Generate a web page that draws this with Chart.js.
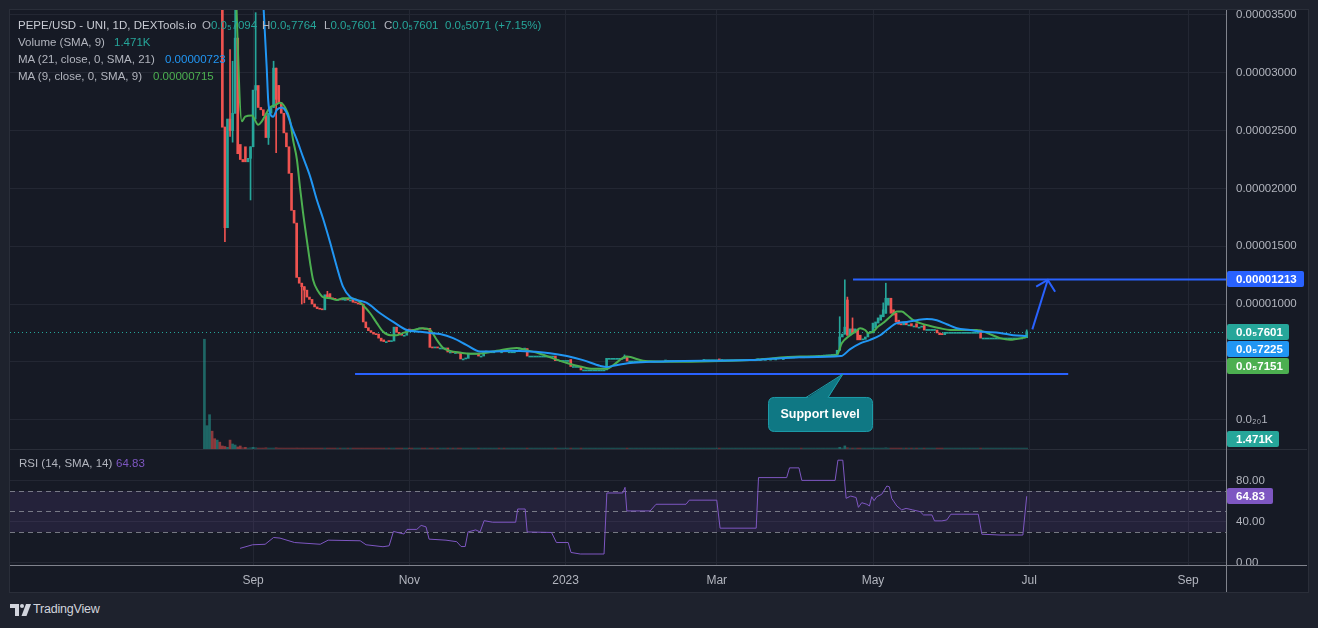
<!DOCTYPE html>
<html><head><meta charset="utf-8">
<script src="https://cdn.jsdelivr.net/npm/chart.js@4.4.1/dist/chart.umd.min.js"></script>
<style>
html,body{margin:0;padding:0;width:1318px;height:628px;overflow:hidden;background:#1e222d;font-family:"Liberation Sans",Arial,sans-serif;}
#frame{position:absolute;left:9px;top:9px;width:1298px;height:582px;background:#161a25;border:1px solid #2a2e39;}
canvas{position:absolute;}
#cA{left:10px;top:0px;}
#cB{left:10px;top:449px;}
.ln{position:absolute;background:#80838d;}
.lg{position:absolute;font-size:11.5px;line-height:14px;white-space:nowrap;color:#b2b5be;z-index:5;}
.t{color:#26a69a;}
</style></head>
<body>
<div id="frame"></div>
<div style="position:absolute;left:10px;top:449px;width:1297px;height:1px;background:#2a2e39"></div>
<canvas id="cA" width="1298" height="449" style="width:1298px;height:449px"></canvas>
<canvas id="cB" width="1298" height="143" style="width:1298px;height:143px"></canvas>
<div class="ln" style="left:1226px;top:10px;width:1px;height:582px"></div>
<div class="ln" style="left:10px;top:565px;width:1297px;height:1px"></div>

<div class="lg" style="left:18px;top:18px;color:#c8cbd3">PEPE/USD - UNI, 1D, DEXTools.io</div>
<div class="lg" style="left:202px;top:18px">O<span class="t">0.0₅7094</span></div>
<div class="lg" style="left:262px;top:18px">H<span class="t">0.0₅7764</span></div>
<div class="lg" style="left:324px;top:18px">L<span class="t">0.0₅7601</span></div>
<div class="lg" style="left:384px;top:18px">C<span class="t">0.0₅7601</span></div>
<div class="lg t" style="left:445px;top:18px">0.0₆5071 (+7.15%)</div>
<div class="lg" style="left:18px;top:35px">Volume (SMA, 9)</div>
<div class="lg t" style="left:114px;top:35px">1.471K</div>
<div class="lg" style="left:18px;top:52px">MA (21, close, 0, SMA, 21)</div>
<div class="lg" style="left:165px;top:52px;color:#2196f3">0.00000723</div>
<div class="lg" style="left:18px;top:69px">MA (9, close, 0, SMA, 9)</div>
<div class="lg" style="left:153px;top:69px;color:#4caf50">0.00000715</div>
<div class="lg" style="left:19px;top:456px">RSI (14, SMA, 14)</div>
<div class="lg" style="left:116px;top:456px;color:#7e57c2">64.83</div>

<svg style="position:absolute;left:10px;top:604px" width="22" height="12" viewBox="0 0 22 12">
<path d="M0 0H9V12H5V4H0Z" fill="#d1d4dc"/><circle cx="12" cy="2" r="2" fill="#d1d4dc"/><path d="M16 0H21L16.5 12H11.5Z" fill="#d1d4dc"/>
</svg>
<div style="position:absolute;left:33px;top:602px;font-size:12.5px;color:#d1d4dc;font-weight:500;letter-spacing:-0.2px">TradingView</div>

<script>
// ================= DATA =================
// daily candles starting at this date (prices in millionths of USD, i.e. value × 1e-6)
const firstDate = '2022-08-13';
const opens = [
  38, 46, 52, 60, 55, 49, 53, 48, 25.3, 16.6,            // d -19..-10
  26.0, 25.0, 26.5, 33.0, 23.8, 22.5, 23.6, 22.3, 22.6, 23.6, // d -9..0
  28.5, 28.9, 27.0, 26.8, 26.3, 24.4, 26.5, 27.0, 30.4, 28.9, // 1..10
  27.4, 26.5, 24.8, 23.6, 21.3, 18.1, 17.0, 12.3, 11.8, 11.5, // 11..20
  11.2, 10.6, 10.4, 10.0, 9.75, 9.6, 9.55, 9.5, 10.8, 10.9,   // 21..30
  10.5, 10.45, 10.4, 10.4, 10.35, 10.4, 10.4, 10.35, 10.4, 10.15, // 31..40
  10.1, 10.0, 10.0, 8.45, 7.95, 7.7, 7.55, 7.4, 7.4, 7.05,    // 41..50
  6.9, 6.75, 6.8, 6.75, 6.8, 8.0, 7.55, 7.35, 7.3, 7.3,       // 51..60
  7.8, 7.75, 7.7, 7.75, 7.85, 7.9, 7.85, 7.8, 7.9, 6.25,      // 61..70
  6.2, 6.25, 6.2, 6.2, 6.2, 6.2, 5.85, 5.85, 5.8, 5.8,        // 71..80
  5.75, 5.25, 5.25, 5.3, 5.75, 5.75, 5.75, 5.75, 5.5, 5.5,    // 81..90
  5.85, 5.87, 5.87, 5.87, 5.87, 5.88, 5.87, 5.87, 5.86, 5.87, // 91..100
  5.87, 5.87, 5.87, 5.95, 6.05, 6.1, 6.15, 5.5, 5.5, 5.5,     // 101..110
  5.5, 5.5, 5.5, 5.5, 5.5, 5.5, 5.5, 5.5, 5.1, 5.12,          // 111..120
  5.12, 5.12, 5.12, 5.2, 4.6, 4.6, 4.6, 4.6, 4.3, 4.3,        // 121..130
  4.3, 4.3, 4.3, 4.3, 4.3, 4.3, 4.3, 4.3, 5.3, 5.3,           // 131..140
  5.3, 5.3, 5.3, 5.3, 5.3, 5.45, 5.07, 5.07, 5.07, 5.07,      // 141..150
  5.07, 5.07, 5.07, 5.07, 5.07, 5.07, 5.07, 5.07, 5.07, 5.07, // 151..160
  5.07, 5.12, 5.12, 5.12, 5.12, 5.12, 5.12, 5.12, 5.12, 5.12, // 161..170
  5.12, 5.12, 5.12, 5.12, 5.12, 5.12, 5.18, 5.18, 5.18, 5.18, // 171..180
  5.18, 5.25, 5.12, 5.18, 5.18, 5.18, 5.18, 5.18, 5.18, 5.18, // 181..190
  5.18, 5.18, 5.18, 5.18, 5.18, 5.18, 5.18, 5.2, 5.2, 5.22,   // 191..200
  5.22, 5.23, 5.23, 5.25, 5.25, 5.27, 5.28, 5.28, 5.3, 5.32,  // 201..210
  5.33, 5.35, 5.37, 5.45, 5.35, 5.38, 5.4, 5.42, 5.43, 5.45,  // 211..220
  5.47, 5.48, 5.5, 5.52, 5.53, 5.55, 5.57, 5.6, 6.0, 7.15,    // 221..230
  7.4, 10.35, 7.3, 7.85, 7.5, 7.75, 7.3, 6.9, 6.95, 7.15,     // 231..240
  7.55, 7.5, 7.95, 8.35, 8.6, 8.9, 9.2, 9.9, 10.5, 9.5,       // 241..250
  9.2, 8.6, 8.3, 8.2, 8.45, 8.2, 8.3, 8.1, 8.3, 8.0,          // 251..260
  8.0, 8.15, 7.8, 7.8, 7.8, 7.8, 7.75, 7.5, 7.45, 7.35,       // 261..270
  7.55, 7.55, 7.55, 7.55, 7.55, 7.55, 7.55, 7.55, 7.55, 7.55, // 271..280
  7.55, 7.55, 7.55, 7.75, 7.06, 7.06, 7.06, 7.06, 7.06, 7.06, // 281..290
  7.06, 7.06, 7.06, 7.06, 7.06, 7.06, 7.06, 7.06, 7.06, 7.06, // 291..300
  7.06, 7.094                                                  // 301..302
];
const closes = [
  46, 52, 60, 55, 49, 53, 48, 25.3, 16.6, 26.0,
  25.0, 26.5, 33.0, 23.0, 22.5, 22.3, 22.3, 22.6, 23.6, 28.5,
  28.9, 27.0, 26.8, 26.3, 24.4, 26.5, 27.0, 30.4, 27.7, 27.4,
  26.5, 24.8, 23.6, 21.3, 18.1, 17.0, 12.3, 11.8, 11.5, 11.2,
  10.6, 10.4, 10.0, 9.75, 9.6, 9.55, 9.5, 10.8, 10.6, 10.5,
  10.45, 10.4, 10.4, 10.35, 10.4, 10.4, 10.35, 10.35, 10.15, 10.1,
  10.0, 9.95, 8.45, 7.95, 7.7, 7.55, 7.4, 7.35, 7.05, 6.8,
  6.75, 6.75, 6.75, 6.8, 8.0, 7.55, 7.35, 7.3, 7.3, 7.8,
  7.75, 7.7, 7.75, 7.85, 7.9, 7.85, 7.8, 7.9, 6.25, 6.2,
  6.25, 6.2, 6.2, 6.2, 6.2, 5.85, 5.85, 5.8, 5.8, 5.75,
  5.25, 5.25, 5.3, 5.75, 5.75, 5.75, 5.75, 5.5, 5.5, 5.85,
  5.87, 5.87, 5.87, 5.87, 5.88, 5.87, 5.87, 5.86, 5.87, 5.87,
  5.87, 5.87, 5.95, 6.05, 6.1, 6.15, 5.5, 5.5, 5.5, 5.5,
  5.5, 5.5, 5.5, 5.5, 5.5, 5.5, 5.5, 5.1, 5.12, 5.12,
  5.12, 5.12, 5.12, 4.6, 4.6, 4.6, 4.6, 4.3, 4.3, 4.3,
  4.3, 4.3, 4.3, 4.3, 4.3, 4.3, 4.3, 5.3, 5.3, 5.3,
  5.3, 5.3, 5.3, 5.3, 5.45, 5.07, 5.07, 5.07, 5.07, 5.07,
  5.07, 5.07, 5.07, 5.07, 5.07, 5.07, 5.07, 5.07, 5.07, 5.07,
  5.12, 5.12, 5.12, 5.12, 5.12, 5.12, 5.12, 5.12, 5.12, 5.12,
  5.12, 5.12, 5.12, 5.12, 5.12, 5.18, 5.18, 5.18, 5.18, 5.18,
  5.18, 5.12, 5.18, 5.18, 5.18, 5.18, 5.18, 5.18, 5.18, 5.18,
  5.18, 5.18, 5.18, 5.18, 5.18, 5.18, 5.2, 5.2, 5.22, 5.22,
  5.23, 5.23, 5.25, 5.25, 5.27, 5.28, 5.28, 5.3, 5.32, 5.33,
  5.35, 5.37, 5.38, 5.35, 5.38, 5.4, 5.42, 5.43, 5.45, 5.47,
  5.48, 5.5, 5.52, 5.53, 5.55, 5.57, 5.6, 6.0, 7.15, 7.4,
  8.0, 7.3, 7.85, 7.5, 7.85, 6.9, 6.9, 6.95, 7.15, 7.55,
  7.6, 8.35, 8.45, 8.8, 9.05, 9.5, 10.5, 10.5, 9.2, 9.05,
  8.45, 8.25, 8.2, 8.45, 8.2, 8.2, 8.1, 8.1, 8.0, 8.0,
  8.05, 7.75, 7.8, 7.8, 7.8, 7.8, 7.5, 7.35, 7.35, 7.55,
  7.55, 7.55, 7.55, 7.55, 7.55, 7.55, 7.55, 7.55, 7.55, 7.55,
  7.55, 7.55, 7.55, 7.05, 7.06, 7.06, 7.06, 7.06, 7.06, 7.06,
  7.06, 7.06, 7.06, 7.06, 7.06, 7.06, 7.06, 7.06, 7.06, 7.06,
  7.094, 7.601
];
// wick extremes beyond the body: [day offset from 2022-09-01, value]
const wickHighs = [[-9,32],[-8,31],[-7,40],[1,35.2],[8,31],[10,28.9],[29,11.1],[145,5.6],[229,8.9],[231,12.1],[232,10.6],[234,8.8],[246,10.1],[247,11.8],[302,7.764]];
const wickLows = [[-11,15.4],[-9,24.5],[-8,24.0],[-1,19.0],[1,26.0],[6,23.8],[9,23.1],[19,10.0],[20,10.1]];
// daily volume, thousands
const volumes = [
  160, 34, 50, 26, 15, 13, 10, 4.4, 3.6, 2.5,
  13, 7.3, 5.8, 3, 4.4, 2, 2.5, 1.5, 2, 2.5,
  2, 1.5, 1.2, 1.5, 2, 1.5, 1.2, 1.5, 2, 1.5,
  1.5, 1.2, 1.4, 1.2, 1.5, 1.3, 1.6, 1.4, 1.2, 1.3, 1.1, 1.2, 1, 1.1, 1.2, 1, 1.3, 1.1, 1, 1,
  1, 1, 1, 1, 1, 1, 1, 1, 1, 1.2, 1, 1, 1.3, 1.2, 1, 1, 1, 1, 1.1, 1,
  1, 1, 1, 1, 1.2, 1, 1, 1, 1, 1.1, 1, 1, 1, 1, 1, 1, 1, 1, 1.2, 1,
  1, 1, 1, 1, 1, 1, 1, 1, 1, 1, 1, 1, 1, 1, 1, 1, 1, 1, 1, 1,
  1, 1, 1, 1, 1, 1, 1, 1, 1, 1, 1, 1, 1, 1, 1, 1, 1, 1, 1, 1,
  1, 1, 1, 1, 1, 1, 1, 1, 1, 1, 1, 1, 1, 1, 1, 1, 1, 1, 1, 1,
  1, 1, 1, 1, 1, 1, 1, 1.2, 1, 1, 1, 1, 1, 1, 1, 1, 1, 1, 1, 1,
  1, 1, 1, 1, 1, 1, 1, 1, 1, 1, 1, 1, 1, 1, 1, 1, 1, 1, 1, 1,
  1, 1, 1, 1, 1, 1, 1, 1, 1, 1, 1, 1, 1, 1, 1, 1, 1, 1, 1, 1,
  1, 1, 1, 1, 1, 1, 1, 1, 1, 1, 1, 1, 1, 1, 1, 1, 1, 1, 1, 1,
  1, 1, 1, 1, 1, 1, 1, 1, 1, 1, 1, 1, 1, 1, 1, 1, 1, 1.5, 2.5, 1.5,
  4.5, 2, 1, 1, 1, 1, 1, 1, 1, 1, 1, 1, 1, 1, 1, 1.5, 2, 1, 1, 1,
  1, 1, 1, 1, 1, 1, 1, 1, 1, 1, 1, 1, 1, 1, 1, 1, 1, 1, 1, 1,
  1, 1, 1, 1, 1, 1, 1, 1, 1, 1, 1, 1, 1, 1, 1, 1, 1, 1, 1, 1,
  1, 1, 1, 1, 1, 1, 1, 1, 1, 1, 1, 1.471
];
// moving averages: [day offset, value]
const ma21 = [[3.5,38],[5.3,30.5],[5.9,27.6],[6.6,26.5],[7.8,26.2],[9.3,26.8],[11.2,27.0],[13.2,26.5],[15.1,25.3],[17.1,24.2],[19.5,22.7],[22.3,21.0],[24.9,19.0],[27.3,17.4],[30.1,15.3],[32.7,13.2],[35.1,11.5],[37.9,10.6],[40.5,10.35],[44.4,10.1],[49.6,9.2],[54.7,8.45],[60.0,7.75],[65.2,7.6],[69.1,7.5],[73.0,7.4],[78.1,7.05],[83.4,6.45],[88.6,5.9],[92.5,5.9],[100.3,5.95],[108.1,5.9],[115.9,5.75],[122.5,5.5],[128.8,5.15],[135.5,4.65],[138.1,4.55],[140.5,4.65],[147.2,4.9],[155.0,5.0],[162.8,5.05],[194.0,5.15],[213.5,5.4],[229.5,5.5],[233.1,6.1],[237.0,6.6],[240.9,6.9],[244.8,7.3],[247.4,7.75],[251.3,8.35],[255.2,8.45],[259.1,8.6],[263.0,8.7],[266.9,8.6],[270.8,8.25],[274.7,7.9],[279.9,7.75],[285.0,7.6],[291.6,7.5],[296.7,7.3],[302,7.225]];
const ma9 = [[-7.2,40],[-4.4,25.8],[-3.1,26.2],[-0.5,26.3],[2.0,25.5],[3.4,25.8],[4.7,26.3],[6.6,27.0],[8.6,27.2],[10.5,27.4],[12.5,27.0],[14.4,25.9],[15.6,24.2],[17.1,22.5],[18.3,20.1],[19.5,17.9],[21.0,15.5],[22.3,13.5],[23.4,12.1],[25.4,11.1],[27.3,10.6],[30.1,10.5],[32.7,10.35],[35.1,10.5],[37.9,10.5],[40.5,10.35],[42.9,9.9],[45.7,9.2],[48.3,8.35],[50.8,7.6],[53.5,7.3],[56.1,7.3],[58.6,7.5],[62.5,7.75],[66.4,7.9],[69.1,7.75],[71.7,6.9],[74.2,6.2],[76.9,5.95],[80.8,5.8],[84.7,5.7],[89.8,5.75],[95.1,5.95],[102.9,6.2],[106.8,6.0],[112.0,5.7],[117.1,5.3],[122.5,4.9],[127.7,4.6],[132.7,4.4],[138.1,4.4],[140.5,4.7],[145.9,5.45],[152.2,5.1],[162.8,5.0],[194.0,5.15],[213.5,5.45],[227.9,5.6],[229.8,6.6],[233.1,7.3],[235.0,7.6],[237.0,7.9],[238.9,7.75],[240.1,7.5],[242.0,7.6],[244.0,8.05],[245.9,8.35],[248.7,8.9],[251.3,9.35],[253.2,9.35],[255.2,9.05],[257.7,8.6],[260.4,8.35],[264.3,8.1],[268.2,7.9],[272.1,7.75],[277.2,7.75],[282.5,7.75],[286.4,7.5],[291.6,7.05],[295.5,6.9],[302,7.151]];
// RSI(14): [day offset, value]
const rsi = [[-5.1,14],[-0.2,17.5],[4.7,18],[8.0,24.6],[10.5,24],[16.2,19.7],[26.2,18],[29.3,22],[41.8,21.4],[44.1,17.5],[50.7,15.6],[53.1,16.5],[54.8,30.5],[58.9,28],[60.1,32.5],[63.9,32.5],[65.6,36.4],[67.5,35],[68.7,23],[75.3,22],[79.5,20.5],[81.2,15.8],[82.8,15.8],[83.9,30],[86.9,32],[88.6,30],[90.2,41],[93.5,39.5],[102.5,39.5],[103.3,52.4],[106.2,52.4],[107.0,30],[116.5,29.5],[118.4,19.7],[123.0,19.7],[124.1,10],[127.7,8.5],[137.0,8.5],[138.1,68],[144.3,68],[145.2,73.5],[145.9,50.5],[155.0,50.5],[157.3,57],[169.0,57],[170.3,61],[181.0,61],[182.3,33.7],[196.4,33.7],[197.3,83],[208.3,83],[209.4,92.5],[213.1,92.5],[214.2,80.3],[227.2,80.3],[228.3,100],[230.2,100],[231.5,62.8],[233.3,65],[235.4,63.6],[236.3,54],[237.6,58.5],[239.6,57],[240.6,55.3],[241.5,64.4],[242.4,60.5],[243.5,64.4],[245.4,66.7],[247.4,74.8],[248.4,74],[249.3,62.8],[251.3,55.3],[253.2,51.5],[254.9,53],[257.5,51.5],[260.4,49.8],[261.7,46.6],[265.0,46.6],[266.0,40.8],[268.9,40.8],[270.8,41.7],[272.4,47.3],[283.1,47.3],[284.5,27.8],[291.6,27],[300.5,27],[302,64.83]];
// axis ticks
const tickDates = ['2022-09-01','2022-11-01','2023-01-01','2023-03-01','2023-05-01','2023-07-01','2023-09-01'];
const tickLabels = ['Sep','Nov','2023','Mar','May','Jul','Sep'];
const priceTicks = [0,5,10,15,20,25,30,35];
const rsiTicks = [0,40,80];
const rsiLevels = [70,50,30];
// drawn levels: [day offset, value]
const supportLine = [[39.8,3.95],[318.2,3.95]];
const resistanceLevel = 12.13;
const resistanceStart = 234.2;
const arrowShaft = [[304.2,7.81],[310.2,12.08]];
const arrowHead = [[305.7,11.5],[310.2,12.08],[313.1,11.06]];
const calloutAt = [230.3,3.95];
const calloutText = 'Support level';
const lastVolumeLabel = '1.471K';

// ================= LAYOUT CONSTANTS =================
const X_MIN = -94.9, X_MAX = 379.8;
const P_MIN = -2.54, P_MAX = 35.43;
const VOL_MAX = 640;
const R_MIN = -3.2, R_MAX = 110.9;
const FONT = '"Liberation Sans", Arial, sans-serif';
const GRID = '#232733';
const TXT = '#b2b5be';
const UP = '#26a69a', DOWN = '#ef5350';

// ================= BUILD =================
const dayRef = Date.UTC(2022, 8, 1);
const dayOf = s => Math.round((Date.parse(s + 'T00:00:00Z') - dayRef) / 864e5);
const d0 = dayOf(firstDate);
const days = closes.map((_, i) => d0 + i);
const up = closes.map((c, i) => c >= opens[i]);
const tickDays = tickDates.map(dayOf);
const bodies = closes.map((c, i) => ({x: days[i], y: [Math.min(opens[i], c), Math.max(opens[i], c)]}));
const bodyColors = up.map(u => u ? UP : DOWN);
const hiMap = new Map(wickHighs), loMap = new Map(wickLows);
const wickDays = [...new Set([...hiMap.keys(), ...loMap.keys()])];
const wicks = wickDays.map(d => { const i = d - d0; return {x: d, y: [loMap.has(d) ? loMap.get(d) : Math.min(opens[i], closes[i]), hiMap.has(d) ? hiMap.get(d) : Math.max(opens[i], closes[i])]}; });
const wickColors = wickDays.map(d => up[d - d0] ? UP : DOWN);
const volData = volumes.map((v, i) => ({x: days[i], y: v}));
const volColors = up.map((u, i) => volumes[i] > 2 ? (u ? 'rgba(38,166,154,0.55)' : 'rgba(239,83,80,0.55)') : (u ? 'rgba(38,166,154,0.35)' : 'rgba(239,83,80,0.35)'));
const pts = arr => arr.map(p => ({x: p[0], y: p[1]}));

const SUB = '₀₁₂₃₄₅₆₇₈₉';
function fmtPrice(v) { // v in millionths
  const n = v * 1e-6;
  if (n >= 1e-5) return n.toFixed(8);
  const z = Math.floor(-Math.log10(n));
  const digits = String(Math.round(n * Math.pow(10, z + 4)));
  return '0.0' + String(z).split('').map(c => SUB[+c]).join('') + digits;
}
function priceLabel(v) {
  if (v === 0) return '0.0₂₀1';
  if (v === 5) return '';
  return (v * 1e-6).toFixed(8);
}

function roundRect(ctx, x, y, w, h, r) {
  ctx.beginPath(); ctx.moveTo(x + r, y); ctx.lineTo(x + w - r, y); ctx.quadraticCurveTo(x + w, y, x + w, y + r);
  ctx.lineTo(x + w, y + h - r); ctx.quadraticCurveTo(x + w, y + h, x + w - r, y + h); ctx.lineTo(x + r, y + h);
  ctx.quadraticCurveTo(x, y + h, x, y + h - r); ctx.lineTo(x, y + r); ctx.quadraticCurveTo(x, y, x + r, y); ctx.closePath();
}
function tag(ctx, x, cy, w, text, bg) {
  ctx.fillStyle = bg; roundRect(ctx, x, Math.round(cy - 8), w, 16, 2); ctx.fill();
  ctx.fillStyle = '#ffffff'; ctx.font = 'bold 11.5px ' + FONT; ctx.textAlign = 'left'; ctx.textBaseline = 'middle';
  ctx.fillText(text, x + 9, Math.round(cy - 8) + 8.5);
}

const lastClose = closes[closes.length - 1];
const lastMa21 = ma21[ma21.length - 1][1];
const lastMa9 = ma9[ma9.length - 1][1];

const overlayA = {
  id: 'overlayA',
  beforeDatasetsDraw(chart) {
    const {ctx, chartArea: a, scales: {y}} = chart;
    const py = Math.round(y.getPixelForValue(lastClose)) + 0.5;
    ctx.save(); ctx.strokeStyle = UP; ctx.lineWidth = 1; ctx.setLineDash([1, 3]);
    ctx.beginPath(); ctx.moveTo(a.left, py); ctx.lineTo(a.right, py); ctx.stroke(); ctx.restore();
  },
  afterDraw(chart) {
    const {ctx, chartArea: a, scales: {x, y, yVol}} = chart;
    ctx.save();
    const tx = x.getPixelForValue(calloutAt[0]), ty = y.getPixelForValue(calloutAt[1]);
    const bx = tx - 75, by = ty + 23, bw = 104, bh = 34;
    ctx.fillStyle = '#0f7884'; ctx.strokeStyle = '#1e9eab'; ctx.lineWidth = 1;
    roundRect(ctx, bx + 0.5, by + 0.5, bw, bh, 6); ctx.fill(); ctx.stroke();
    ctx.beginPath(); ctx.moveTo(tx - 37, by + 1.5); ctx.lineTo(tx, ty); ctx.lineTo(tx - 15, by + 1.5); ctx.closePath(); ctx.fill();
    ctx.beginPath(); ctx.moveTo(tx - 37, by + 0.5); ctx.lineTo(tx, ty); ctx.lineTo(tx - 15, by + 0.5); ctx.stroke();
    ctx.fillStyle = '#ffffff'; ctx.font = '600 12.5px ' + FONT; ctx.textAlign = 'center'; ctx.textBaseline = 'middle';
    ctx.fillText(calloutText, bx + bw / 2, by + bh / 2 + 1);
    const L = a.right + 1;
    const tags = [
      {v: resistanceLevel, text: fmtPrice(resistanceLevel), bg: '#2962ff', w: 77},
      {v: lastClose, text: fmtPrice(lastClose), bg: UP, w: 62},
      {v: lastMa21, text: fmtPrice(lastMa21), bg: '#2196f3', w: 62},
      {v: lastMa9, text: fmtPrice(lastMa9), bg: '#4caf50', w: 62}
    ];
    let prev = -1e9;
    tags.map(t => ({...t, py: y.getPixelForValue(t.v)})).sort((p, q) => p.py - q.py).forEach(t => {
      const cy = Math.max(t.py, prev + 17); prev = cy;
      tag(ctx, L, cy, t.w, t.text, t.bg);
    });
    const vy = yVol.getPixelForValue(volumes[volumes.length - 1]);
    tag(ctx, L, vy - 9, 52, lastVolumeLabel, UP);
    ctx.restore();
  }
};

const lineDs = (data, color, order, extra) => Object.assign({type: 'line', data, borderColor: color, borderWidth: 2, pointRadius: 0, clip: 0, order}, extra || {});

new Chart(document.getElementById('cA'), {
  type: 'bar',
  data: {datasets: [
    lineDs(pts(supportLine), '#2962ff', 0),
    lineDs([{x: resistanceStart, y: resistanceLevel}, {x: X_MAX, y: resistanceLevel}], '#2962ff', 0),
    lineDs(pts(arrowShaft), '#2962ff', 0),
    lineDs(pts(arrowHead), '#2962ff', 0),
    lineDs(pts(ma21), '#2196f3', 1, {cubicInterpolationMode: 'monotone'}),
    lineDs(pts(ma9), '#4caf50', 1, {cubicInterpolationMode: 'monotone'}),
    {type: 'bar', data: bodies, backgroundColor: bodyColors, barThickness: 2, minBarLength: 1, clip: 0, order: 2},
    {type: 'bar', data: wicks, backgroundColor: wickColors, barThickness: 1, clip: 0, order: 3},
    {type: 'bar', yAxisID: 'yVol', data: volData, backgroundColor: volColors, barThickness: 2, minBarLength: 1, clip: 0, order: 4}
  ]},
  options: {
    responsive: false, animation: false, events: [],
    layout: {padding: {top: 10, left: 0, right: 0, bottom: 0}},
    datasets: {bar: {grouped: false}},
    plugins: {legend: {display: false}, tooltip: {enabled: false}},
    scales: {
      x: {type: 'linear', min: X_MIN, max: X_MAX, offset: false,
          grid: {offset: false, color: GRID, drawTicks: false}, border: {display: false}, ticks: {display: false},
          afterBuildTicks: s => { s.ticks = tickDays.map(v => ({value: v})); },
          afterFit: s => { s.height = 0; s.paddingLeft = 0; s.paddingRight = 0; }},
      y: {position: 'right', min: P_MIN, max: P_MAX,
          grid: {color: GRID, drawTicks: false}, border: {display: false},
          ticks: {color: TXT, font: {size: 11.5, family: FONT}, padding: 10, callback: v => priceLabel(v)},
          afterBuildTicks: s => { s.ticks = priceTicks.map(v => ({value: v})); },
          afterFit: s => { s.width = 82; s.paddingTop = 0; s.paddingBottom = 0; }},
      yVol: {display: false, min: 0, max: VOL_MAX}
    }
  },
  plugins: [overlayA]
});

const overlayB = {
  id: 'overlayB',
  beforeDatasetsDraw(chart) {
    const {ctx, chartArea: a, scales: {y}} = chart;
    ctx.save();
    const yTop = y.getPixelForValue(rsiLevels[0]), yBot = y.getPixelForValue(rsiLevels[2]);
    ctx.fillStyle = 'rgba(126,87,194,0.14)';
    ctx.fillRect(a.left, yTop, a.right - a.left, yBot - yTop);
    ctx.strokeStyle = 'rgba(149,152,161,0.75)'; ctx.lineWidth = 1; ctx.setLineDash([5, 4]);
    rsiLevels.forEach(l => { const py = Math.round(y.getPixelForValue(l)) + 0.5; ctx.beginPath(); ctx.moveTo(a.left, py); ctx.lineTo(a.right, py); ctx.stroke(); });
    ctx.restore();
  },
  afterDraw(chart) {
    const {ctx, chartArea: a, scales: {y}} = chart;
    const last = rsi[rsi.length - 1][1];
    ctx.save(); tag(ctx, a.right + 1, y.getPixelForValue(last), 46, last.toFixed(2), '#7e57c2'); ctx.restore();
  }
};

new Chart(document.getElementById('cB'), {
  type: 'line',
  data: {datasets: [{data: pts(rsi), borderColor: '#7e57c2', borderWidth: 1, pointRadius: 0, tension: 0, clip: 0}]},
  options: {
    responsive: false, animation: false, events: [],
    layout: {padding: 0},
    plugins: {legend: {display: false}, tooltip: {enabled: false}},
    scales: {
      x: {type: 'linear', min: X_MIN, max: X_MAX,
          grid: {color: GRID, drawTicks: false}, border: {display: false},
          ticks: {color: TXT, font: {size: 12, family: FONT}, padding: 7, maxRotation: 0, autoSkip: false,
                  callback: v => { const k = tickDays.indexOf(v); return k >= 0 ? tickLabels[k] : ''; }},
          afterBuildTicks: s => { s.ticks = tickDays.map(v => ({value: v})); },
          afterFit: s => { s.height = 26; s.paddingLeft = 0; s.paddingRight = 0; }},
      y: {position: 'right', min: R_MIN, max: R_MAX,
          grid: {color: GRID, drawTicks: false}, border: {display: false},
          ticks: {color: TXT, font: {size: 11.5, family: FONT}, padding: 10, callback: v => v.toFixed(2)},
          afterBuildTicks: s => { s.ticks = rsiTicks.map(v => ({value: v})); },
          afterFit: s => { s.width = 82; s.paddingTop = 0; s.paddingBottom = 0; }}
    }
  },
  plugins: [overlayB]
});
</script>
</body></html>
